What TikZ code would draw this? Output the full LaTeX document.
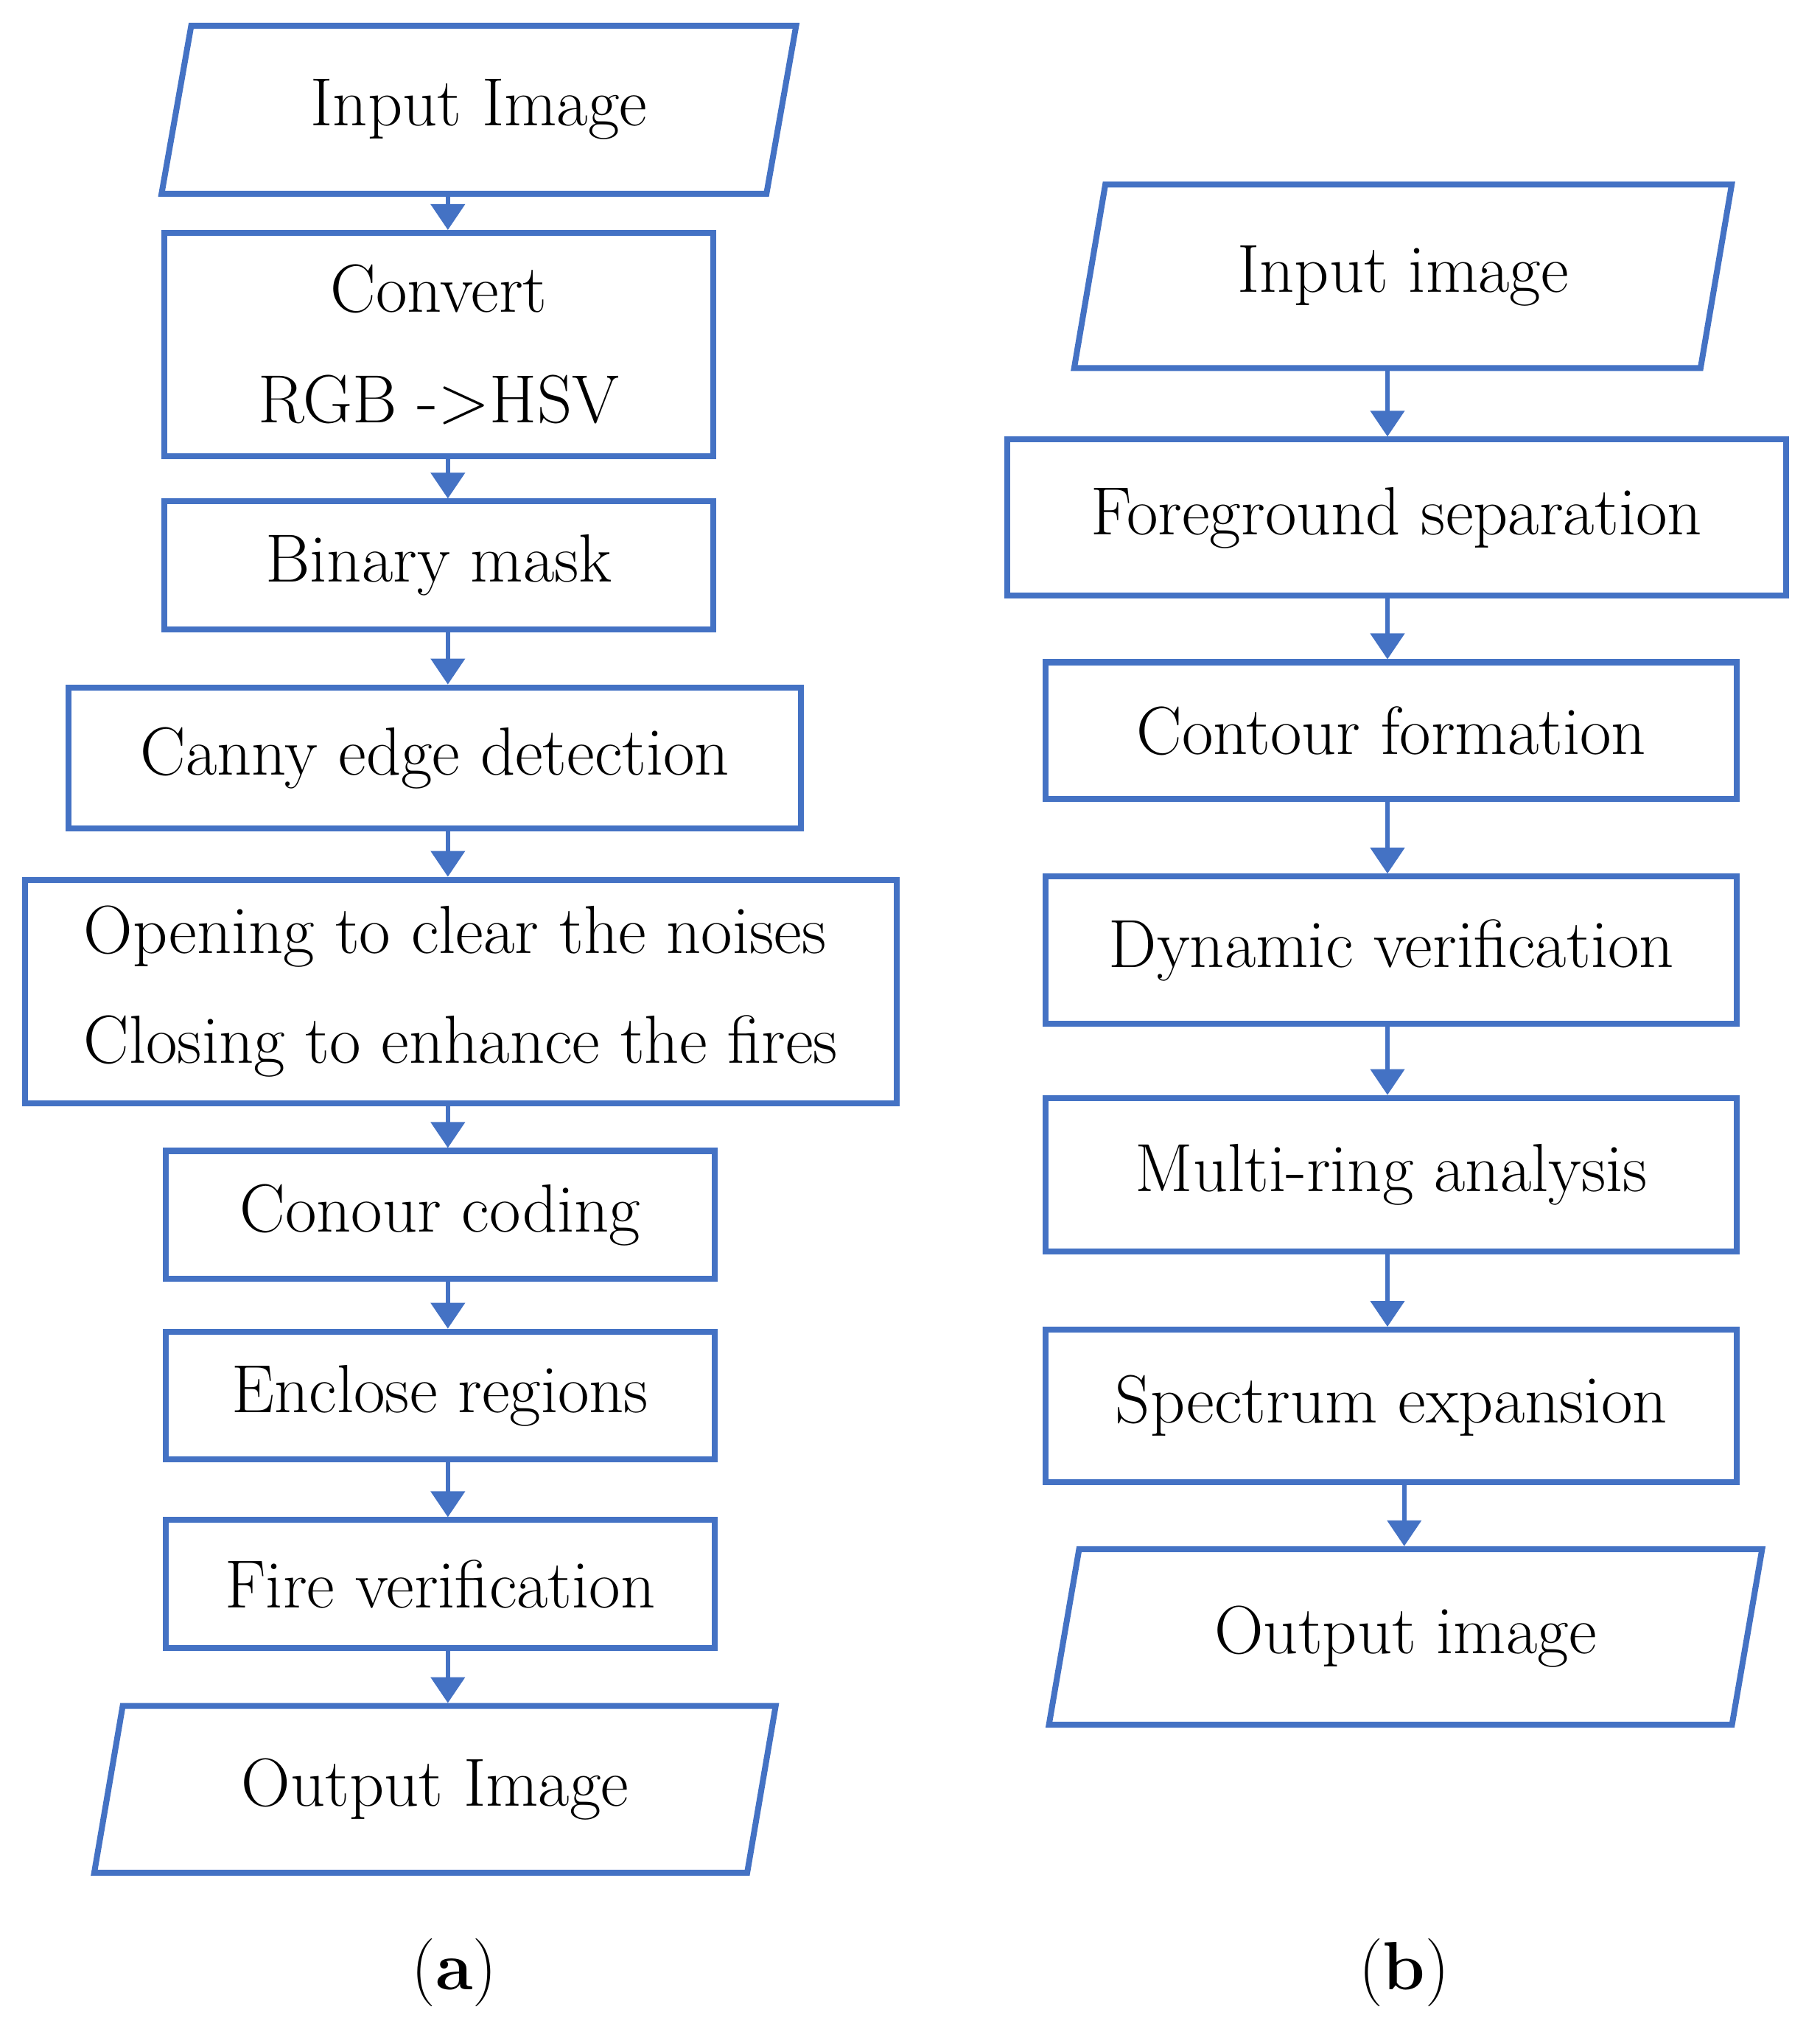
\documentclass[tikz,border=0pt]{standalone}
\usetikzlibrary{shapes.geometric,arrows.meta}
\definecolor{flowblue}{RGB}{68,114,196}
\tikzset{
  box/.style={draw=flowblue, line width=1.3pt, rectangle, inner sep=0pt},
  io/.style={draw=flowblue, line width=1.3pt, trapezium, trapezium left angle=74,
    trapezium right angle=106, trapezium stretches=true, inner sep=0pt},
  flow/.style={draw=flowblue, line width=1pt, -{Triangle[length=2mm,width=2.6mm]}},
  txt/.style={font=\fontsize{15}{20}\selectfont}
}
\begin{document}
\begin{tikzpicture}[x=0.01cm,y=-0.01cm]
	\useasboundingbox (0,0) rectangle (1410,1574);
	
	% left chart
	\node[io, minimum width=4.93cm, minimum height=1.3cm, txt] (inL) at (371,85) {Input Image};
	\node[box, minimum width=4.25cm, minimum height=1.73cm, txt, align=center] (hsv) at (340,267) {Convert\\[0.15cm]RGB ->HSV};
	\node[box, minimum width=4.25cm, minimum height=0.99cm, txt] (mask) at (340,438) {Binary mask};
	\node[box, minimum width=5.67cm, minimum height=1.09cm, txt] (canny) at (337,587) {Canny edge detection};
	\node[box, minimum width=6.75cm, minimum height=1.73cm, txt, align=left] (morph) at (357,768) {Opening to clear the noises\\[0.15cm]Closing to enhance the fires};
	\node[box, minimum width=4.25cm, minimum height=0.99cm, txt] (coding) at (341,941) {Conour coding};
	\node[box, minimum width=4.25cm, minimum height=0.99cm, txt] (enclose) at (341,1081) {Enclose regions};
	\node[box, minimum width=4.25cm, minimum height=0.99cm, txt] (firever) at (341,1227) {Fire verification};
	\node[io, minimum width=5.3cm, minimum height=1.29cm, txt] (outL) at (337,1386) {Output Image};
	\node[txt] (capa) at (352,1528) {(\textbf{a})};
	
	\coordinate (lx) at (347,0);
	\draw[flow] (inL.south -| lx) -- (hsv.north -| lx);
	\draw[flow] (hsv.south -| lx) -- (mask.north -| lx);
	\draw[flow] (mask.south -| lx) -- (canny.north -| lx);
	\draw[flow] (canny.south -| lx) -- (morph.north -| lx);
	\draw[flow] (morph.south -| lx) -- (coding.north -| lx);
	\draw[flow] (coding.south -| lx) -- (enclose.north -| lx);
	\draw[flow] (enclose.south -| lx) -- (firever.north -| lx);
	\draw[flow] (firever.south -| lx) -- (outL.north -| lx);
	
	% right chart
	\node[io, minimum width=5.1cm, minimum height=1.42cm, txt] (inR) at (1087,214) {Input image};
	\node[box, minimum width=6.03cm, minimum height=1.21cm, txt] (fg) at (1082,401) {Foreground separation};
	\node[box, minimum width=5.35cm, minimum height=1.06cm, txt] (contour) at (1078,566) {Contour formation};
	\node[box, minimum width=5.35cm, minimum height=1.14cm, txt] (dyn) at (1078,736) {Dynamic verification};
	\node[box, minimum width=5.35cm, minimum height=1.19cm, txt] (ring) at (1078,910) {Multi-ring analysis};
	\node[box, minimum width=5.35cm, minimum height=1.18cm, txt] (spec) at (1078,1089) {Spectrum expansion};
	\node[io, minimum width=5.57cm, minimum height=1.36cm, txt] (outR) at (1089,1268) {Output image};
	\node[txt] (capb) at (1088,1528) {(\textbf{b})};
	
	\coordinate (rx) at (1075,0);
	\draw[flow] (inR.south -| rx) -- (fg.north -| rx);
	\draw[flow] (fg.south -| rx) -- (contour.north -| rx);
	\draw[flow] (contour.south -| rx) -- (dyn.north -| rx);
	\draw[flow] (dyn.south -| rx) -- (ring.north -| rx);
	\draw[flow] (ring.south -| rx) -- (spec.north -| rx);
	\draw[flow] (spec.south -| capb) -- (outR.north -| capb);
\end{tikzpicture}
\end{document}
